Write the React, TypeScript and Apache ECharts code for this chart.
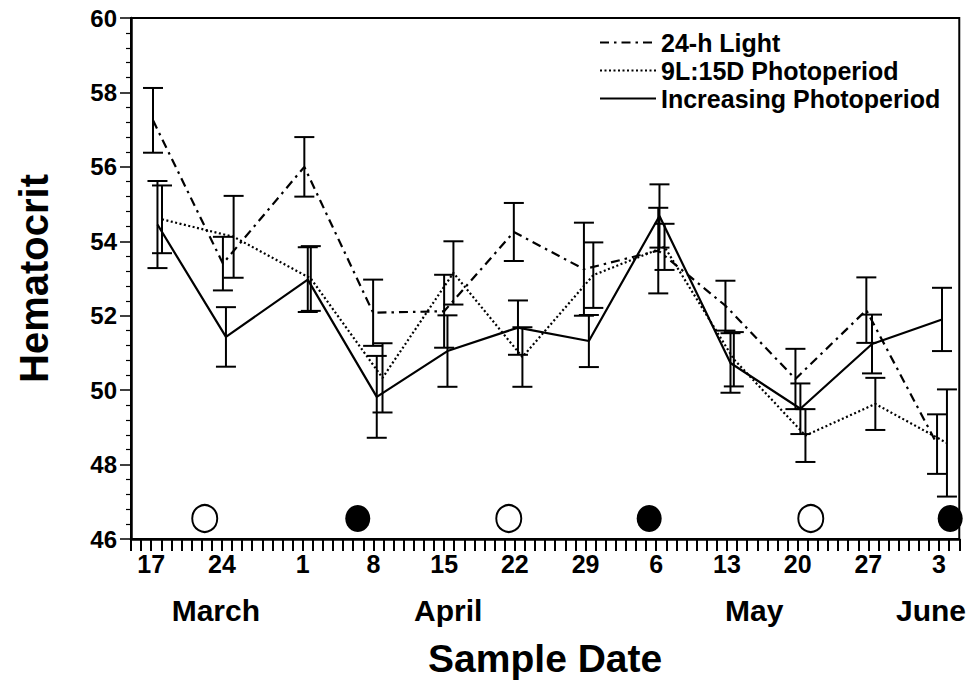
import React, { useEffect, useRef } from "react";
import * as echarts from "echarts";

// Days are counted from 17 March (day 0)
const tickDays = [0, 7, 15, 22, 29, 36, 43, 50, 57, 64, 71, 78];
const tickLabels = ["17", "24", "1", "8", "15", "22", "29", "6", "13", "20", "27", "3"];
const monthDays = [6.4, 29.4, 59.7, 77.2];
const monthNames = ["March", "April", "May", "June"];

// 24-h Light (dash-dot)
const lightDays = [0.18, 7.1, 15.16, 21.97, 29.0, 35.9, 42.84, 50.2, 56.85, 63.78, 70.8, 77.8];
const lightMean = [57.25, 53.4, 56.0, 52.08, 52.12, 54.25, 53.25, 53.75, 52.27, 50.3, 52.15, 48.55];
const lightSE = [0.87, 0.72, 0.8, 0.89, 0.98, 0.78, 1.25, 1.15, 0.67, 0.81, 0.88, 0.8];

// 9L:15D Photoperiod (dotted)
const shortDays = [1.07, 8.16, 15.8, 22.9, 29.92, 36.75, 43.77, 50.82, 57.68, 64.77, 71.69, 78.78];
const shortMean = [54.59, 54.12, 53.0, 50.33, 53.15, 50.89, 53.09, 53.85, 50.83, 48.78, 49.63, 48.58];
const shortSE = [0.91, 1.1, 0.87, 0.93, 0.85, 0.8, 0.88, 0.62, 0.73, 0.71, 0.7, 1.44];

// Increasing Photoperiod (solid)
const incDays = [0.62, 7.4, 15.5, 22.33, 29.33, 36.31, 43.33, 50.32, 57.35, 64.27, 71.36, 78.29];
const incMean = [54.45, 51.43, 52.97, 49.82, 51.05, 51.68, 51.32, 54.68, 50.73, 49.5, 51.24, 51.9];
const incSE = [1.17, 0.8, 0.87, 1.1, 0.96, 0.73, 0.7, 0.85, 0.8, 0.68, 0.79, 0.85];

// Moon phase markers
const openMoonDays = [5.3, 35.4, 65.3];
const filledMoonDays = [20.45, 49.3, 79.1];
const moonLevel = 46.55;

const FONT = "'Liberation Sans', Arial, Helvetica, sans-serif";
const X_MIN = -2;
const X_MAX = 80;

function errorSeries(days: number[], mean: number[], se: number[]) {
  return {
    type: "custom",
    silent: true,
    z: 4,
    clip: false,
    encode: { x: 0, y: 1 },
    data: days.map((d, i) => [d, mean[i], se[i]]),
    renderItem: (params: any, api: any) => {
      const x = api.value(0);
      const m = api.value(1);
      const s = api.value(2);
      const top = api.coord([x, m + s]);
      const bot = api.coord([x, m - s]);
      const hw = 10;
      const st = { stroke: "#000", lineWidth: 2 };
      return {
        type: "group",
        children: [
          { type: "line", shape: { x1: top[0], y1: top[1], x2: bot[0], y2: bot[1] }, style: st },
          { type: "line", shape: { x1: top[0] - hw, y1: top[1], x2: top[0] + hw, y2: top[1] }, style: st },
          { type: "line", shape: { x1: bot[0] - hw, y1: bot[1], x2: bot[0] + hw, y2: bot[1] }, style: st },
        ],
      };
    },
  };
}

export default function App() {
  const ref = useRef<HTMLDivElement>(null);
  useEffect(() => {
    if (!ref.current) return;
    const chart = echarts.init(ref.current, null, { renderer: "svg" });
    const option: any = {
      animation: false,
      backgroundColor: "#fff",
      textStyle: { fontFamily: FONT },
      grid: {
        left: 131,
        right: 8,
        top: 18,
        bottom: 142,
        show: true,
        borderColor: "#000",
        borderWidth: 2,
        backgroundColor: "transparent",
      },
      legend: {
        data: ["24-h Light", "9L:15D Photoperiod", "Increasing Photoperiod"],
        orient: "vertical",
        left: 594,
        top: 25,
        itemWidth: 56,
        itemHeight: 14,
        itemGap: 3,
        selectedMode: false,
        itemStyle: { opacity: 0 },
        textStyle: { fontFamily: FONT, fontWeight: "bold", fontSize: 25, color: "#000", lineHeight: 22 },
      },
      xAxis: [
        {
          type: "value",
          min: X_MIN,
          max: X_MAX,
          interval: 1,
          position: "bottom",
          name: "Sample Date",
          nameLocation: "middle",
          nameGap: 100,
          nameTextStyle: { fontFamily: FONT, fontWeight: "bold", fontSize: 39, color: "#000" },
          splitLine: { show: false },
          axisLine: { show: true, onZero: false, lineStyle: { color: "#000", width: 2.5 } },
          axisTick: { show: true, length: 12, lineStyle: { color: "#000", width: 2 } },
          axisLabel: {
            margin: 12,
            fontFamily: FONT,
            fontWeight: "bold",
            fontSize: 25,
            color: "#000",
            formatter: (v: number) => {
              const i = tickDays.findIndex((d) => Math.abs(d - v) < 0.01);
              return i >= 0 ? tickLabels[i] : "";
            },
          },
        },
        {
          type: "value",
          min: X_MIN,
          max: X_MAX,
          position: "bottom",
          splitLine: { show: false },
          axisLine: { show: false, onZero: false },
          axisTick: { show: false },
          axisLabel: {
            customValues: monthDays,
            margin: 56,
            fontFamily: FONT,
            fontWeight: "bold",
            fontSize: 30,
            color: "#000",
            formatter: (v: number) => {
              const i = monthDays.findIndex((d) => Math.abs(d - v) < 0.01);
              return i >= 0 ? monthNames[i] : "";
            },
          },
        },
      ],
      yAxis: {
        type: "value",
        min: 46,
        max: 60,
        interval: 2,
        name: "Hematocrit",
        nameLocation: "middle",
        nameGap: 77,
        nameTextStyle: { fontFamily: FONT, fontWeight: "bold", fontSize: 40, color: "#000" },
        splitLine: { show: false },
        axisLine: { show: true, onZero: false, lineStyle: { color: "#000", width: 2.5 } },
        axisTick: { show: true, length: 11, lineStyle: { color: "#000", width: 1.5 } },
        minorTick: { show: true, splitNumber: 5, length: 5, lineStyle: { color: "#000", width: 1.2 } },
        axisLabel: { margin: 14, fontFamily: FONT, fontWeight: "bold", fontSize: 24, color: "#000" },
      },
      series: [
        {
          name: "24-h Light",
          type: "line",
          symbol: "none",
          z: 3,
          data: lightDays.map((d, i) => [d, lightMean[i]]),
          lineStyle: { color: "#000", width: 2.2, type: [9, 5, 2.5, 5] },
          itemStyle: { color: "#000" },
        },
        {
          name: "9L:15D Photoperiod",
          type: "line",
          symbol: "none",
          z: 3,
          data: shortDays.map((d, i) => [d, shortMean[i]]),
          lineStyle: { color: "#000", width: 2.2, type: [2, 2.5] },
          itemStyle: { color: "#000" },
        },
        {
          name: "Increasing Photoperiod",
          type: "line",
          symbol: "none",
          z: 3,
          data: incDays.map((d, i) => [d, incMean[i]]),
          lineStyle: { color: "#000", width: 2.2, type: "solid" },
          itemStyle: { color: "#000" },
        },
        errorSeries(lightDays, lightMean, lightSE),
        errorSeries(shortDays, shortMean, shortSE),
        errorSeries(incDays, incMean, incSE),
        {
          type: "scatter",
          silent: true,
          clip: false,
          symbolSize: [25, 27],
          data: openMoonDays.map((d) => [d, moonLevel]),
          itemStyle: { color: "#fff", borderColor: "#000", borderWidth: 2, opacity: 1 },
        },
        {
          type: "scatter",
          silent: true,
          clip: false,
          symbolSize: [25, 27],
          data: filledMoonDays.map((d) => [d, moonLevel]),
          itemStyle: { color: "#000", opacity: 1 },
        },
      ],
    };
    chart.setOption(option);
    return () => chart.dispose();
  }, []);
  return (
    <div
      ref={ref}
      style={{ position: "absolute", left: 0, top: 0, width: 969, height: 683, background: "#fff" }}
    />
  );
}
